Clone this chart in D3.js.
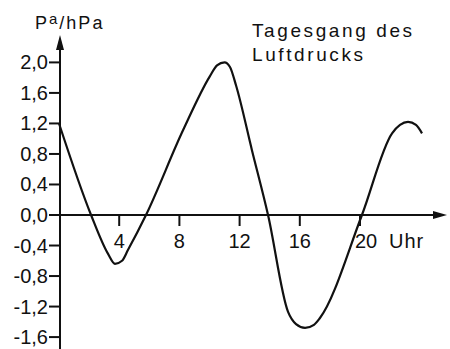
<!DOCTYPE html>
<head>
    <meta charset="utf-8">
    <style>
      body {
          margin: 0;
          background: #fff;
      }

      svg text {
          font-family: 'Liberation Sans', sans-serif;
          fill: #111;
      }

      .axis-line {
        stroke: #111;
        stroke-width: 2px;
        fill: none;
      }

      .curve {
        fill: none;
        stroke: #111;
        stroke-width: 2.2px;
        stroke-linejoin: round;
      }
  </style>
</head>
<body>
<svg id="chart" width="450" height="349"></svg>
<script src="https://cdn.jsdelivr.net/npm/d3@7"></script>
<script>
  // hours of day and pressure deviation (hPa)
  const hours    = [0, 2.13, 3.26, 3.72, 4.19, 4.58, 5.78, 8.24, 10.03, 10.5, 11.0, 11.36, 11.76, 12.82, 13.89, 15.22, 15.75, 16.35, 16.94, 17.34, 20.13, 22.13, 22.66, 23.19, 23.72, 24.12];
  const pressure = [1.2, 0, -0.51, -0.64, -0.6, -0.46, 0, 1.11, 1.82, 1.96, 2.0, 1.94, 1.7, 0.85, 0, -1.27, -1.43, -1.48, -1.44, -1.35, 0, 1.07, 1.18, 1.22, 1.18, 1.07];

  const xTicks = [4, 8, 12, 16, 20];
  const yTicks = [2.0, 1.6, 1.2, 0.8, 0.4, 0.0, -0.4, -0.8, -1.2, -1.6];
  const yTickLabels = ["2,0", "1,6", "1,2", "0,8", "0,4", "0,0", "-0,4", "-0,8", "-1,2", "-1,6"];

  var svg = d3.select("#chart");

  var x = d3.scaleLinear().domain([0, 20]).range([59, 360]);
  var y = d3.scaleLinear().domain([0, 2]).range([215, 62.4]);
  var x0 = 60;

  // axes
  svg.append("line").attr("class", "axis-line")
      .attr("x1", x0).attr("x2", x0).attr("y1", 44).attr("y2", 349);
  svg.append("line").attr("class", "axis-line")
      .attr("x1", x0).attr("x2", 438).attr("y1", y(0)).attr("y2", y(0));
  svg.append("path")
      .attr("d", `M${x0},35 L${x0 - 4},50 L${x0 + 4},50 Z`)
      .attr("fill", "#111");
  svg.append("path")
      .attr("d", `M447,${y(0)} L433,${y(0) - 4} L433,${y(0) + 4} Z`)
      .attr("fill", "#111");

  // y ticks
  var yt = svg.append("g");
  yt.selectAll("line").data(yTicks).join("line")
      .attr("class", "axis-line")
      .attr("x1", x0 - 11).attr("x2", x0)
      .attr("y1", d => y(d)).attr("y2", d => y(d));
  yt.selectAll("text").data(yTicks).join("text")
      .attr("x", 48).attr("y", d => y(d) + 7)
      .attr("text-anchor", "end")
      .attr("font-size", 20)
      .text((d, i) => yTickLabels[i]);

  // x ticks
  var xt = svg.append("g");
  xt.selectAll("line").data(xTicks).join("line")
      .attr("class", "axis-line")
      .attr("x1", d => x(d)).attr("x2", d => x(d))
      .attr("y1", y(0)).attr("y2", y(0) + 11);
  xt.selectAll("text").data(xTicks).join("text")
      .attr("x", d => x(d) + (d === 20 ? 6 : 0)).attr("y", 248)
      .attr("text-anchor", "middle")
      .attr("font-size", 20)
      .text(d => d);
  svg.append("text")
      .attr("x", 389).attr("y", 248)
      .attr("font-size", 20)
      .attr("letter-spacing", 1)
      .text("Uhr");

  // axis title
  var yl = svg.append("text")
      .attr("x", 35).attr("y", 29)
      .attr("font-size", 18)
      .attr("letter-spacing", 2);
  yl.append("tspan").text("P");
  yl.append("tspan").attr("font-size", 15).attr("dy", -5).text("a");
  yl.append("tspan").attr("dy", 5).text("/hPa");

  // chart title
  svg.append("text")
      .attr("x", 252).attr("y", 37)
      .attr("font-size", 19)
      .attr("letter-spacing", 2.6)
      .text("Tagesgang des");
  svg.append("text")
      .attr("x", 252).attr("y", 61)
      .attr("font-size", 19)
      .attr("letter-spacing", 2.6)
      .text("Luftdrucks");

  // the curve
  var line = d3.line()
      .x(function(d, i) { return x(hours[i]); })
      .y(function(d) { return y(d); })
      .curve(d3.curveMonotoneX);

  svg.append("path")
      .datum(pressure)
      .attr("class", "curve")
      .attr("d", line);
</script>
</body>
